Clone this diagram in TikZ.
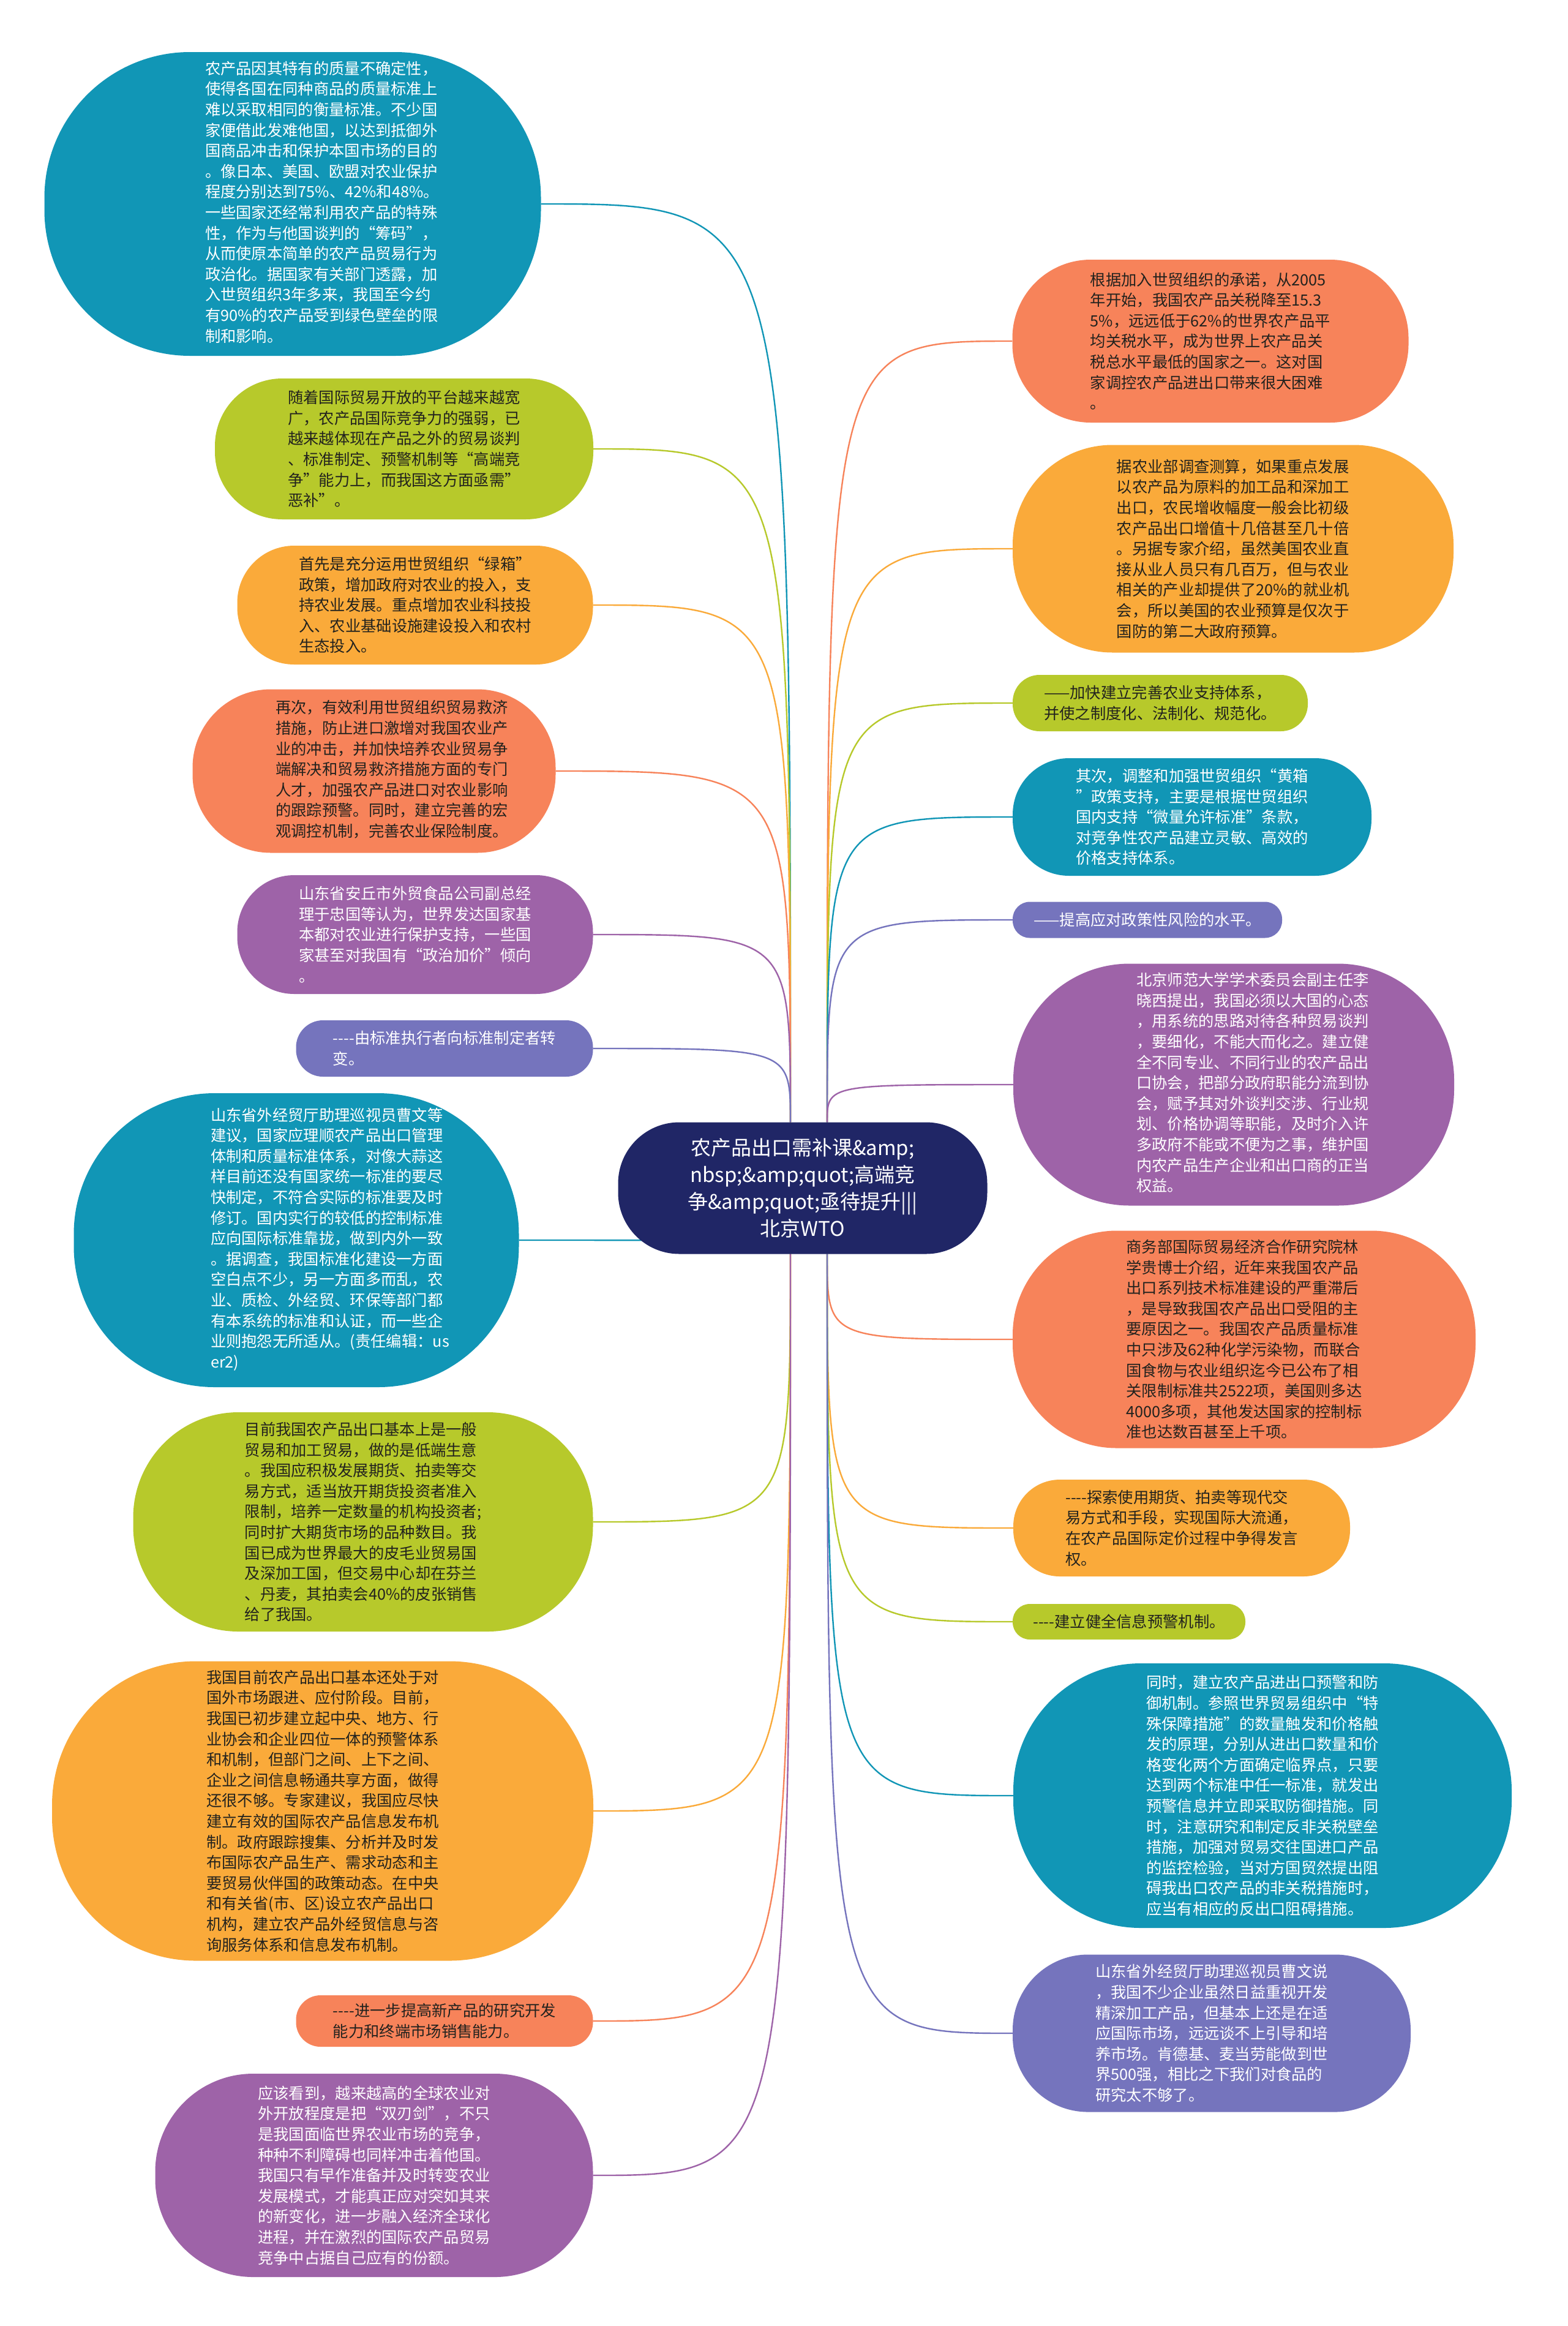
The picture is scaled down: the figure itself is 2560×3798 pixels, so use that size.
\documentclass[tikz,border=0pt]{standalone}
\usepackage{fontspec}
\setmainfont{Noto Sans CJK SC}
\usetikzlibrary{backgrounds}
\definecolor{teal}{RGB}{17,150,182}
\definecolor{lime}{RGB}{183,201,43}
\definecolor{amber}{RGB}{250,170,58}
\definecolor{coral}{RGB}{247,131,90}
\definecolor{plum}{RGB}{158,99,168}
\definecolor{iris}{RGB}{117,116,189}
\definecolor{navy}{RGB}{32,38,102}
\definecolor{ink}{RGB}{34,34,30}
\newcommand\offtext[2]{\hspace*{#1}\begin{tabular}{@{}l@{}}#2\end{tabular}}

\begin{document}
\begin{tikzpicture}[x=1pt,y=-1pt,
    b/.style={align=left,inner sep=0pt,font=\fontsize{25.3}{33.6}\selectfont},
    w/.style={b,text=white},
    k/.style={b,text=ink},
    ln/.style={line width=2.4pt}]
  \node[align=center,inner sep=0pt,text=white,fill=navy,minimum width=603pt,minimum height=215pt,rounded corners=100pt,
        font=\fontsize{33}{44}\selectfont] (c) at (1311,1940)
    {农产品出口需补课\&amp;\\nbsp;\&amp;quot;高端竞\\争\&amp;quot;亟待提升|||\\北京WTO};
  \coordinate (tl) at ([xshift=-20pt]c.north);
  \coordinate (tr) at ([xshift=40pt]c.north);
  \coordinate (bl) at ([xshift=-20pt]c.south);
  \coordinate (br) at ([xshift=40pt]c.south);

  \node[w,fill=teal,minimum width=811pt,minimum height=496pt,rounded corners=238pt] (l1) at (478,333)
    {\offtext{96pt}{农产品因其特有的质量不确定性，\\使得各国在同种商品的质量标准上\\难以采取相同的衡量标准。不少国\\家便借此发难他国，以达到抵御外\\国商品冲击和保护本国市场的目的\\。像日本、美国、欧盟对农业保护\\程度分别达到75\%、42\%和48\%。\\一些国家还经常利用农产品的特殊\\性，作为与他国谈判的“筹码”，\\从而使原本简单的农产品贸易行为\\政治化。据国家有关部门透露，加\\入世贸组织3年多来，我国至今约\\有90\%的农产品受到绿色壁垒的限\\制和影响。}};
  \node[k,fill=lime,minimum width=618pt,minimum height=230pt,rounded corners=110pt] (l2) at (660,733)
    {随着国际贸易开放的平台越来越宽\\广，农产品国际竞争力的强弱，已\\越来越体现在产品之外的贸易谈判\\、标准制定、预警机制等“高端竞\\争”能力上，而我国这方面亟需”\\恶补”。};
  \node[k,fill=amber,minimum width=581pt,minimum height=194pt,rounded corners=93pt] (l3) at (678,988)
    {首先是充分运用世贸组织“绿箱”\\政策，增加政府对农业的投入，支\\持农业发展。重点增加农业科技投\\入、农业基础设施建设投入和农村\\生态投入。};
  \node[k,fill=coral,minimum width=593pt,minimum height=267pt,rounded corners=128pt] (l4) at (611,1259)
    {\offtext{58pt}{再次，有效利用世贸组织贸易救济\\措施，防止进口激增对我国农业产\\业的冲击，并加快培养农业贸易争\\端解决和贸易救济措施方面的专门\\人才，加强农产品进口对农业影响\\的跟踪预警。同时，建立完善的宏\\观调控机制，完善农业保险制度。}};
  \node[w,fill=plum,minimum width=581pt,minimum height=194pt,rounded corners=93pt] (l5) at (678,1526)
    {山东省安丘市外贸食品公司副总经\\理于忠国等认为，世界发达国家基\\本都对农业进行保护支持，一些国\\家甚至对我国有“政治加价”倾向\\。};
  \node[w,fill=iris,minimum width=485pt,minimum height=92pt,rounded corners=44pt] (l6) at (726,1712)
    {-{}-{}-{}-由标准执行者向标准制定者转\\变。};
  \node[w,fill=teal,minimum width=727pt,minimum height=480pt,rounded corners=230pt] (l7) at (484,2025)
    {\offtext{110pt}{山东省外经贸厅助理巡视员曹文等\\建议，国家应理顺农产品出口管理\\体制和质量标准体系，对像大蒜这\\样目前还没有国家统一标准的要尽\\快制定，不符合实际的标准要及时\\修订。国内实行的较低的控制标准\\应向国际标准靠拢，做到内外一致\\。据调查，我国标准化建设一方面\\空白点不少，另一方面多而乱，农\\业、质检、外经贸、环保等部门都\\有本系统的标准和认证，而一些企\\业则抱怨无所适从。(责任编辑：us\\er2)}};
  \node[k,fill=lime,minimum width=751pt,minimum height=358pt,rounded corners=172pt] (l8) at (593,2485)
    {目前我国农产品出口基本上是一般\\贸易和加工贸易，做的是低端生意\\。我国应积极发展期货、拍卖等交\\易方式，适当放开期货投资者准入\\限制，培养一定数量的机构投资者;\\同时扩大期货市场的品种数目。我\\国已成为世界最大的皮毛业贸易国\\及深加工国，但交易中心却在芬兰\\、丹麦，其拍卖会40\%的皮张销售\\给了我国。};
  \node[k,fill=amber,minimum width=884pt,minimum height=489pt,rounded corners=235pt] (l9) at (527,2957)
    {我国目前农产品出口基本还处于对\\国外市场跟进、应付阶段。目前，\\我国已初步建立起中央、地方、行\\业协会和企业四位一体的预警体系\\和机制，但部门之间、上下之间、\\企业之间信息畅通共享方面，做得\\还很不够。专家建议，我国应尽快\\建立有效的国际农产品信息发布机\\制。政府跟踪搜集、分析并及时发\\布国际农产品生产、需求动态和主\\要贸易伙伴国的政策动态。在中央\\和有关省(市、区)设立农产品出口\\机构，建立农产品外经贸信息与咨\\询服务体系和信息发布机制。};
  \node[k,fill=coral,minimum width=485pt,minimum height=84pt,rounded corners=40pt] (l10) at (726,3300)
    {-{}-{}-{}-进一步提高新产品的研究开发\\能力和终端市场销售能力。};
  \node[w,fill=plum,minimum width=715pt,minimum height=332pt,rounded corners=160pt] (l11) at (611,3552)
    {应该看到，越来越高的全球农业对\\外开放程度是把“双刃剑”，不只\\是我国面临世界农业市场的竞争，\\种种不利障碍也同样冲击着他国。\\我国只有早作准备并及时转变农业\\发展模式，才能真正应对突如其来\\的新变化，进一步融入经济全球化\\进程，并在激烈的国际农产品贸易\\竞争中占据自己应有的份额。};

  \node[k,fill=coral,minimum width=647pt,minimum height=266pt,rounded corners=128pt] (r1) at (1977,557)
    {根据加入世贸组织的承诺，从2005\\年开始，我国农产品关税降至15.3\\5\%，远远低于62\%的世界农产品平\\均关税水平，成为世界上农产品关\\税总水平最低的国家之一。这对国\\家调控农产品进出口带来很大困难\\。};
  \node[k,fill=amber,minimum width=720pt,minimum height=339pt,rounded corners=163pt] (r2) at (2014,896)
    {据农业部调查测算，如果重点发展\\以农产品为原料的加工品和深加工\\出口，农民增收幅度一般会比初级\\农产品出口增值十几倍甚至几十倍\\。另据专家介绍，虽然美国农业直\\接从业人员只有几百万，但与农业\\相关的产业却提供了20\%的就业机\\会，所以美国的农业预算是仅次于\\国防的第二大政府预算。};
  \node[k,fill=lime,minimum width=482pt,minimum height=92pt,rounded corners=44pt] (r3) at (1895,1148)
    {——加快建立完善农业支持体系，\\并使之制度化、法制化、规范化。};
  \node[w,fill=teal,minimum width=586pt,minimum height=192pt,rounded corners=92pt] (r4) at (1947,1334)
    {其次，调整和加强世贸组织“黄箱\\”政策支持，主要是根据世贸组织\\国内支持“微量允许标准”条款，\\对竞争性农产品建立灵敏、高效的\\价格支持体系。};
  \node[w,fill=iris,minimum width=440pt,minimum height=59pt,rounded corners=28pt] (r5) at (1874,1502)
    {——提高应对政策性风险的水平。};
  \node[w,fill=plum,minimum width=720pt,minimum height=395pt,rounded corners=190pt] (r6) at (2015,1771)
    {\offtext{62pt}{北京师范大学学术委员会副主任李\\晓西提出，我国必须以大国的心态\\，用系统的思路对待各种贸易谈判\\，要细化，不能大而化之。建立健\\全不同专业、不同行业的农产品出\\口协会，把部分政府职能分流到协\\会，赋予其对外谈判交涉、行业规\\划、价格协调等职能，及时介入许\\多政府不能或不便为之事，维护国\\内农产品生产企业和出口商的正当\\权益。}};
  \node[k,fill=coral,minimum width=756pt,minimum height=355pt,rounded corners=170pt] (r7) at (2032,2187)
    {商务部国际贸易经济合作研究院林\\学贵博士介绍，近年来我国农产品\\出口系列技术标准建设的严重滞后\\，是导致我国农产品出口受阻的主\\要原因之一。我国农产品质量标准\\中只涉及62种化学污染物，而联合\\国食物与农业组织迄今已公布了相\\关限制标准共2522项，美国则多达\\4000多项，其他发达国家的控制标\\准也达数百甚至上千项。};
  \node[k,fill=amber,minimum width=550pt,minimum height=158pt,rounded corners=76pt] (r8) at (1930,2495)
    {-{}-{}-{}-探索使用期货、拍卖等现代交\\易方式和手段，实现国际大流通，\\在农产品国际定价过程中争得发言\\权。};
  \node[k,fill=lime,minimum width=380pt,minimum height=58pt,rounded corners=28pt] (r9) at (1844,2648)
    {-{}-{}-{}-建立健全信息预警机制。};
  \node[w,fill=teal,minimum width=814pt,minimum height=432pt,rounded corners=208pt] (r10) at (2062,2932)
    {同时，建立农产品进出口预警和防\\御机制。参照世界贸易组织中“特\\殊保障措施”的数量触发和价格触\\发的原理，分别从进出口数量和价\\格变化两个方面确定临界点，只要\\达到两个标准中任一标准，就发出\\预警信息并立即采取防御措施。同\\时，注意研究和制定反非关税壁垒\\措施，加强对贸易交往国进口产品\\的监控检验，当对方国贸然提出阻\\碍我出口农产品的非关税措施时，\\应当有相应的反出口阻碍措施。};
  \node[w,fill=iris,minimum width=650pt,minimum height=257pt,rounded corners=123pt] (r11) at (1979,3320)
    {山东省外经贸厅助理巡视员曹文说\\，我国不少企业虽然日益重视开发\\精深加工产品，但基本上还是在适\\应国际市场，远远谈不上引导和培\\养市场。肯德基、麦当劳能做到世\\界500强，相比之下我们对食品的\\研究太不够了。};

  \begin{pgfonlayer}{background}
    \fill[white] (0,0) rectangle (2560,3798);
    \foreach \n/\col in {l1/teal,l2/lime,l3/amber,l4/coral,l5/plum,l6/iris}
      \draw[ln,\col] (tl) .. controls (tl |- \n.east) .. (\n.east);
    \foreach \n/\col in {l7/teal,l8/lime,l9/amber,l10/coral,l11/plum}
      \draw[ln,\col] (bl) .. controls (bl |- \n.east) .. (\n.east);
    \foreach \n/\col in {r1/coral,r2/amber,r3/lime,r4/teal,r5/iris,r6/plum}
      \draw[ln,\col] (tr) .. controls (tr |- \n.west) .. (\n.west);
    \foreach \n/\col in {r7/coral,r8/amber,r9/lime,r10/teal,r11/iris}
      \draw[ln,\col] (br) .. controls (br |- \n.west) .. (\n.west);
  \end{pgfonlayer}
\end{tikzpicture}
\end{document}
